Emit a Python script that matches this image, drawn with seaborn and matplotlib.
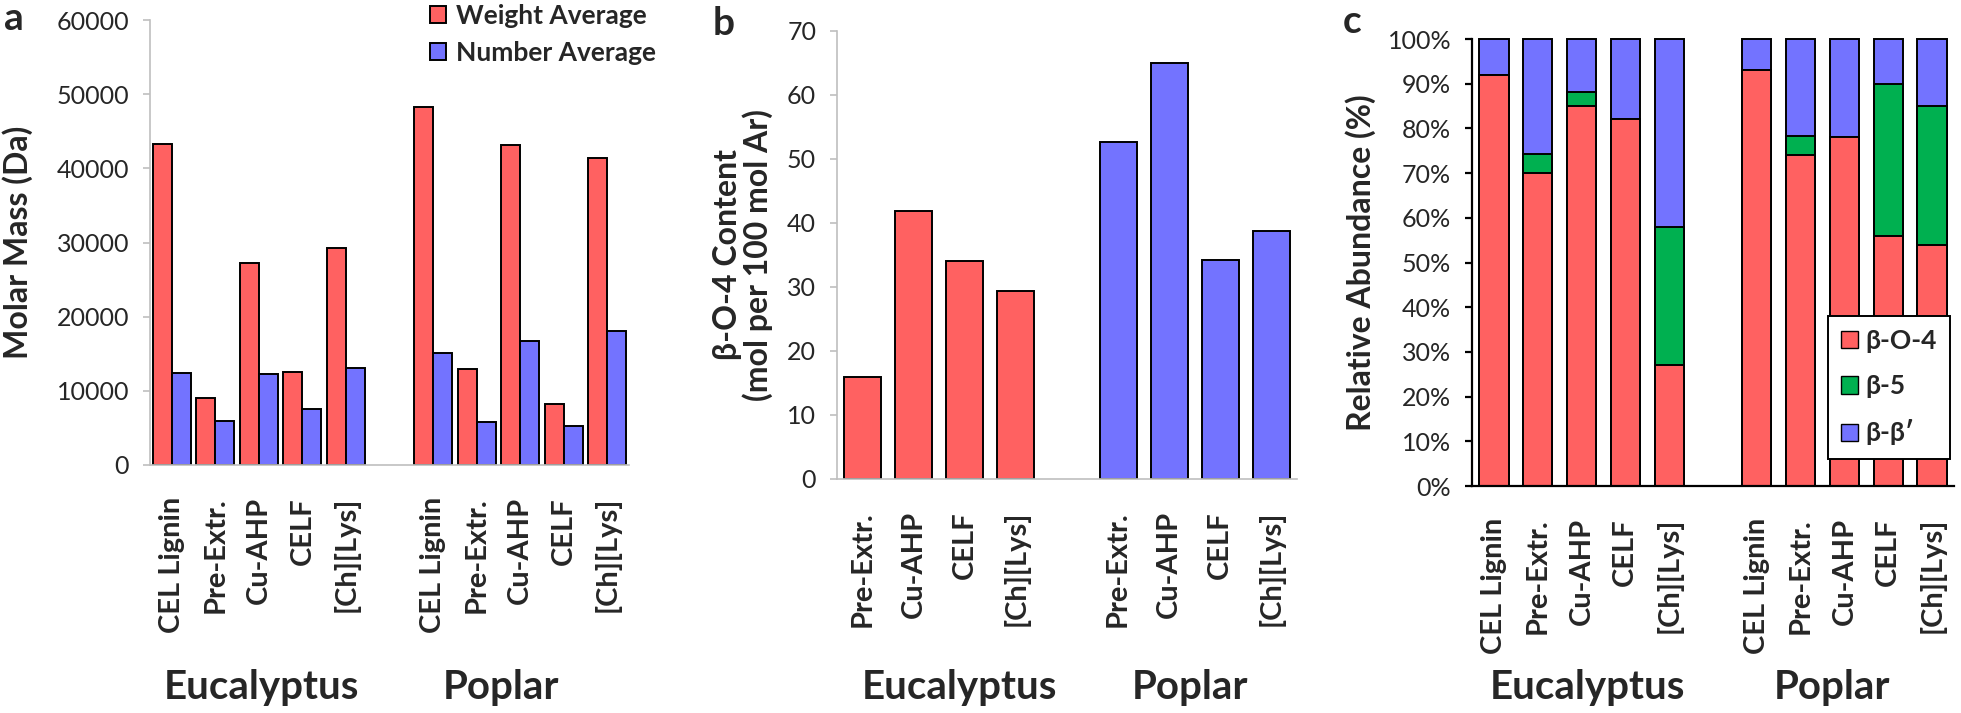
import numpy as np
import pandas as pd
import matplotlib.pyplot as plt
import seaborn as sns
from matplotlib.patches import Patch

# ---- data ----
samples_a = ["CEL Lignin", "Pre-Extr.", "Cu-AHP", "CELF", "[Ch][Lys]"]
samples_b = ["Pre-Extr.", "Cu-AHP", "CELF", "[Ch][Lys]"]

# a: molar mass (Da)
weight_euc = [43300, 9100, 27200, 12600, 29300]
weight_pop = [48300, 12900, 43100, 8200, 41400]
number_euc = [12400, 6000, 12300, 7500, 13100]
number_pop = [15100, 5800, 16700, 5200, 18100]

# b: beta-O-4 content (mol per 100 mol Ar)
bo4_content_euc = [15.9, 41.8, 34.0, 29.3]
bo4_content_pop = [52.7, 65.0, 34.2, 38.8]

# c: relative abundance (%)
euc_bo4 = [92, 70, 85, 82, 27]
euc_b5 = [0, 4.3, 3.2, 0, 31]
euc_bb = [8, 25.7, 11.8, 18, 42]
pop_bo4 = [93, 74, 78, 56, 54]
pop_b5 = [0, 4.2, 0, 34, 31]
pop_bb = [7, 21.8, 22, 10, 15]

RED = "#FF6161"
BLUE = "#7373FF"
GREEN = "#00B050"
GRAY = "#BFBFBF"

sns.set_style("white")
plt.rcParams['font.family'] = ['Lato', 'Open Sans', 'DejaVu Sans']

W, H = 1961, 713
fig = plt.figure(figsize=(W / 100, H / 100), dpi=100)


def box(x0, x1, y0, y1):
    return [x0 / W, 1 - y1 / H, (x1 - x0) / W, (y1 - y0) / H]


def style_axis(ax, labels, spine_color, spine_w, pad=22):
    n = len(labels)
    ax.set_xlim(-0.5, n - 0.5)
    ax.set_xticks(range(n))
    ax.set_xticklabels(labels, rotation=90, fontsize=21, fontweight="bold", va="top")
    ax.set_xticks(np.arange(-0.5, n, 1), minor=True)
    ax.tick_params(axis="x", which="major", length=0, pad=pad)
    ax.tick_params(axis="x", which="minor", length=10, width=spine_w, color=spine_color)
    ax.tick_params(axis="y", length=5, width=spine_w, color=spine_color, pad=10, labelsize=18, left=True)
    sns.despine(ax=ax)
    for s in ["left", "bottom"]:
        ax.spines[s].set_color(spine_color)
        ax.spines[s].set_linewidth(spine_w)
    ax.set_xlabel("")


# =========================
# a: Molar mass
# =========================
slots_a = [f"E{i}" for i in range(5)] + ["gap"] + [f"P{i}" for i in range(5)]
rows = []
for i in range(5):
    rows.append((f"E{i}", "Weight Average", weight_euc[i]))
    rows.append((f"E{i}", "Number Average", number_euc[i]))
    rows.append((f"P{i}", "Weight Average", weight_pop[i]))
    rows.append((f"P{i}", "Number Average", number_pop[i]))
df_a = pd.DataFrame(rows, columns=["slot", "series", "value"])

ax_a = fig.add_axes(box(150, 629, 20, 465))
sns.barplot(data=df_a, x="slot", y="value", hue="series", order=slots_a,
            hue_order=["Weight Average", "Number Average"], palette=[RED, BLUE],
            saturation=1, width=0.87, edgecolor="black", linewidth=1.4, ax=ax_a)
ax_a.set_ylim(0, 60000)
ax_a.set_yticks(range(0, 60001, 10000))
style_axis(ax_a, samples_a + [""] + samples_a, GRAY, 1.2, pad=23)
ax_a.set_ylabel("Molar Mass (Da)", fontsize=23, fontweight="bold")
ax_a.yaxis.set_label_coords((33 - 150) / 479, 0.5)
h, l = ax_a.get_legend_handles_labels()
ax_a.legend(h, l, loc="upper left", bbox_to_anchor=(430 / W, 1 - 4 / H), bbox_transform=fig.transFigure,
            frameon=False, borderpad=0, borderaxespad=0, handlelength=0.62, handleheight=0.62,
            handletextpad=0.35, labelspacing=0.5, prop={"size": 19, "weight": "bold"})

# =========================
# b: beta-O-4 content
# =========================
slots_b = [f"E{i}" for i in range(4)] + ["gap"] + [f"P{i}" for i in range(4)]
rows = []
for i in range(4):
    rows.append((f"E{i}", "Eucalyptus", bo4_content_euc[i]))
    rows.append((f"P{i}", "Poplar", bo4_content_pop[i]))
df_b = pd.DataFrame(rows, columns=["slot", "species", "value"])

ax_b = fig.add_axes(box(837, 1297, 31, 479))
sns.barplot(data=df_b, x="slot", y="value", hue="species", order=slots_b, dodge=False,
            palette=[RED, BLUE], saturation=1, width=0.72, edgecolor="black", linewidth=1.4,
            legend=False, ax=ax_b)
ax_b.set_ylim(0, 70)
ax_b.set_yticks(range(0, 71, 10))
style_axis(ax_b, samples_b + [""] + samples_b, GRAY, 1.2, pad=23)
ax_b.set_ylabel("β-O-4 Content\n(mol per 100 mol Ar)", fontsize=23, fontweight="bold", linespacing=1.0)
ax_b.yaxis.set_label_coords((773 - 837) / 460, 0.5)

# =========================
# c: relative abundance
# =========================
slots_c = slots_a
df_c = pd.DataFrame({
    "slot": [f"E{i}" for i in range(5)] + [f"P{i}" for i in range(5)],
    "bo4": euc_bo4 + pop_bo4,
    "b5": euc_b5 + pop_b5,
    "bb": euc_bb + pop_bb,
})
df_c["mid"] = df_c["bo4"] + df_c["b5"]
df_c["total"] = df_c["mid"] + df_c["bb"]

ax_c = fig.add_axes(box(1472, 1954, 39, 486))
for col, colr in [("total", BLUE), ("mid", GREEN), ("bo4", RED)]:
    sns.barplot(data=df_c, x="slot", y=col, order=slots_c, color=colr, saturation=1,
                width=0.67, edgecolor="black", linewidth=1.4, ax=ax_c)
for p in ax_c.patches:
    p.set_clip_on(False)
ax_c.set_ylim(0, 100)
ax_c.set_yticks(range(0, 101, 10))
ax_c.set_yticklabels([f"{v}%" for v in range(0, 101, 10)])
style_axis(ax_c, samples_a + [""] + samples_a, "black", 1.6, pad=23)
ax_c.set_ylabel("Relative Abundance (%)", fontsize=23, fontweight="bold")
ax_c.yaxis.set_label_coords((1376 - 1472) / 482, 0.5)
handles_c = [Patch(facecolor=RED, edgecolor="black", label="β-O-4"),
             Patch(facecolor=GREEN, edgecolor="black", label="β-5"),
             Patch(facecolor=BLUE, edgecolor="black", label="β-β′")]
leg = ax_c.legend(handles=handles_c, loc="upper left", bbox_to_anchor=(1828 / W, 1 - 316 / H),
                  bbox_transform=fig.transFigure, borderaxespad=0, fancybox=False,
                  edgecolor="black", framealpha=1, handlelength=0.62, handleheight=0.62,
                  handletextpad=0.3, labelspacing=0.8, borderpad=0.5,
                  prop={"size": 19, "weight": "bold"})
leg.get_frame().set_linewidth(1.4)

# group labels
group_pos = [(261, "Eucalyptus"), (501, "Poplar"), (959, "Eucalyptus"), (1190, "Poplar"),
             (1587, "Eucalyptus"), (1832, "Poplar")]
for xc, txt in group_pos:
    fig.text(xc / W, 1 - 688 / H, txt, ha="center", va="center", fontsize=29, fontweight="bold")

# panel letters
for xl, yb, letter in [(4, 30, "a"), (713, 35, "b"), (1343, 33, "c")]:
    fig.text(xl / W, 1 - yb / H, letter, ha="left", va="baseline", fontsize=28, fontweight="bold")

fig.savefig("out.png", dpi=100)
